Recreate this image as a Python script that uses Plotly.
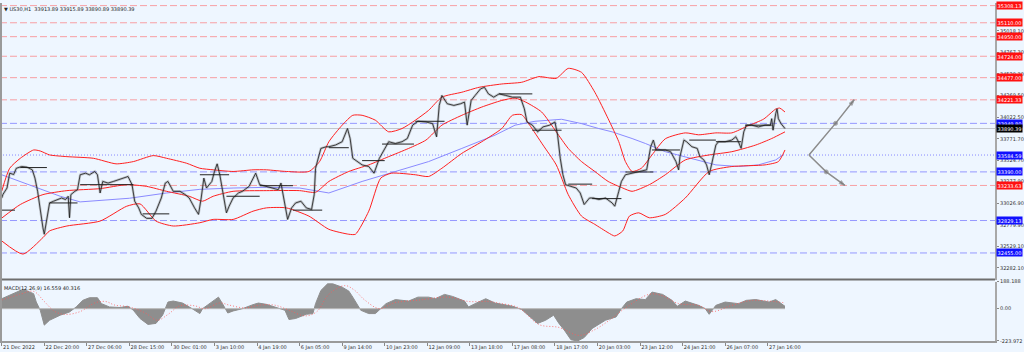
import plotly.graph_objects as go

# ---------------- data ----------------
tick_bars = [0, 32, 64, 96, 128, 160, 192, 224, 256, 288, 320, 352, 384, 416, 448, 480, 512, 544, 576]
tick_labels = ["21 Dec 2022", "22 Dec 20:00", "27 Dec 06:00", "28 Dec 15:00", "30 Dec 01:00",
               "3 Jan 10:00", "4 Jan 19:00", "6 Jan 05:00", "9 Jan 14:00", "10 Jan 23:00",
               "12 Jan 09:00", "13 Jan 18:00", "17 Jan 08:00", "18 Jan 17:00", "20 Jan 03:00",
               "23 Jan 12:00", "24 Jan 21:00", "26 Jan 07:00", "27 Jan 16:00"]

price_bar = [0, 1, 4, 6, 9, 11, 15, 19, 23, 25, 27, 29, 31, 32, 34, 36, 39, 42, 45, 48, 50, 51, 52, 55, 57,
             59, 63, 66, 70, 72, 74, 76, 80, 84, 88, 91, 95, 98, 100, 103, 105, 109, 113, 116, 120, 123,
             125, 129, 134, 138, 141, 145, 148, 150, 152, 154, 158, 160, 162, 164, 166, 169, 171, 174,
             178, 181, 186, 191, 194, 199, 204, 208, 210, 213, 215, 218, 221, 225, 229, 233, 235, 236,
             240, 244, 246, 251, 256, 260, 262, 264, 268, 271, 276, 280, 284, 288, 291, 296, 301, 305,
             309, 313, 319, 324, 327, 329, 331, 335, 340, 345, 348, 350, 353, 356, 360, 363, 366, 370,
             374, 379, 384, 390, 393, 395, 399, 403, 407, 412, 416, 418, 420, 422, 424, 428, 432, 435,
             438, 442, 445, 449, 454, 459, 461, 464, 466, 469, 474, 480, 485, 488, 490, 492, 495, 499,
             503, 507, 509, 510, 513, 515, 519, 523, 525, 528, 530, 532, 534, 537, 539, 544, 549, 552,
             554, 556, 558, 560, 564, 569, 574, 578, 579, 580, 582, 583, 584, 586, 589]
price_close = [33089, 33132, 33204, 33375, 33360, 33432, 33452, 33445, 33414, 33318, 33166, 32937, 32746,
               32671, 32861, 33032, 33052, 33071, 33089, 33071, 33109, 32861, 33128, 33166, 33185, 33357,
               33375, 33357, 33395, 33357, 33147, 33280, 33261, 33280, 33300, 33318, 33337, 33243, 33052,
               32975, 32900, 32854, 32854, 32937, 33089, 33261, 33280, 33166, 33166, 33128, 33089, 32975,
               32900, 33089, 33318, 33204, 33280, 33395, 33483, 33357, 33166, 32918, 32994, 33089, 33147,
               33166, 33223, 33375, 33243, 33223, 33204, 33185, 33261, 33014, 32842, 32975, 33032, 33052,
               32975, 32957, 33128, 33432, 33661, 33680, 33680, 33700, 33738, 33890, 33775, 33547, 33509,
               33471, 33452, 33375, 33547, 33661, 33738, 33718, 33738, 33775, 33929, 33974, 33966, 33947,
               33795, 34157, 34272, 34176, 34157, 34176, 34195, 33929, 34214, 34272, 34347, 34366, 34290,
               34252, 34290, 34272, 34252, 34252, 34118, 33966, 33929, 33852, 33909, 33929, 33966, 33814,
               33547, 33357, 33243, 33223, 33204, 33147, 33014, 33089, 33089, 33071, 33089, 33032, 32994,
               33166, 33280, 33357, 33375, 33395, 33414, 33680, 33757, 33643, 33643, 33643, 33623, 33509,
               33414, 33566, 33757, 33738, 33680, 33661, 33566, 33528, 33471, 33357, 33490, 33700, 33738,
               33738, 33757, 33795, 33738, 33661, 33852, 33929, 33929, 33909, 33929, 33929, 34004, 33871,
               34061, 34118, 34004, 33947, 33890]

bb_upper_bar = [0, 6, 14, 24, 29, 36, 49, 69, 86, 99, 114, 124, 139, 149, 159, 174, 189, 199, 214, 231,
                239, 246, 256, 264, 271, 281, 291, 301, 311, 321, 331, 346, 359, 376, 391, 404, 417, 426,
                436, 446, 456, 464, 469, 474, 481, 489, 499, 514, 524, 537, 549, 561, 573, 582, 585, 589]
bb_upper = [33166, 33432, 33547, 33643, 33631, 33586, 33566, 33547, 33483, 33509, 33578, 33547, 33490,
            33432, 33414, 33395, 33414, 33414, 33395, 33395, 33509, 33738, 33929, 34043, 34043, 33986,
            33852, 33890, 33986, 34100, 34252, 34309, 34366, 34404, 34424, 34489, 34469, 34584, 34538,
            34309, 34004, 33738, 33509, 33395, 33432, 33586, 33772, 33840, 33818, 33840, 33840, 33920,
            34000, 34115, 34126, 34081]

bb_mid_bar = [0, 14, 31, 49, 74, 94, 109, 124, 141, 151, 159, 174, 199, 224, 236, 246, 261, 276, 291,
              306, 319, 331, 346, 361, 376, 386, 394, 406, 417, 426, 436, 446, 456, 467, 474, 487, 499,
              514, 532, 549, 567, 579, 589]
bb_mid = [32857, 33014, 33128, 33174, 33197, 33243, 33223, 33166, 33109, 33052, 33109, 33166, 33174,
          33174, 33155, 33280, 33395, 33471, 33566, 33661, 33757, 33929, 34043, 34138, 34214, 34241,
          34195, 34081, 33852, 33661, 33509, 33395, 33280, 33204, 33166, 33243, 33357, 33528, 33586,
          33623, 33700, 33775, 33852]

bb_lower_bar = [0, 16, 31, 36, 49, 74, 94, 104, 116, 129, 149, 159, 174, 189, 199, 214, 231, 246, 261,
                266, 276, 285, 293, 311, 321, 331, 346, 361, 376, 384, 391, 397, 407, 417, 426, 436, 446,
                456, 461, 467, 472, 479, 487, 499, 514, 532, 549, 574, 584, 589]
bb_lower = [32594, 32442, 32632, 32709, 32766, 32823, 32994, 33021, 32823, 32766, 32804, 32842, 32842,
            32937, 32975, 32975, 32880, 32728, 32671, 32671, 32937, 33318, 33375, 33357, 33337, 33432,
            33604, 33738, 33890, 34043, 34050, 33929, 33700, 33471, 33128, 32880, 32785, 32689, 32651,
            32709, 32880, 32918, 32861, 32900, 33089, 33395, 33452, 33471, 33509, 33643]

ma_bar = [0, 14, 29, 44, 59, 74, 96, 124, 149, 174, 199, 224, 246, 271, 296, 321, 346, 371, 386, 401,
          421, 436, 449, 459, 474, 484, 499, 519, 537, 554, 569, 582, 588]
ma_val = [33357, 33280, 33189, 33109, 33044, 33063, 33086, 33147, 33189, 33204, 33212, 33204, 33147,
          33280, 33395, 33509, 33661, 33814, 33929, 33974, 33997, 33947, 33890, 33852, 33775, 33718,
          33623, 33547, 33471, 33452, 33471, 33528, 33592]

seg_start = [0, 14, 36, 59, 106, 149, 169, 194, 219, 246, 271, 286, 311, 374, 399, 426, 444, 469, 489, 517, 537, 559]
seg_end = [10, 34, 57, 99, 126, 171, 194, 219, 241, 261, 288, 310, 333, 399, 421, 444, 466, 490, 510, 537, 556, 579]
seg_price = [32949, 33440, 33032, 33243, 32906, 33357, 33109, 33231, 32949, 33669, 33520, 33711, 33974,
             34290, 33871, 33249, 33082, 33389, 33643, 33757, 33738, 33929]

red_levels = [35308.13, 35110.00, 34950.00, 34724.00, 34477.00, 34221.33, 33233.63]
blue_levels = [33949.80, 33390.00, 32829.13, 32455.00]
blue_dotted_level = 33584.59
current_price = 33890.39

main_ticks = [35018.10, 34767.30, 34520.30, 34269.50, 34022.50, 33771.70, 33524.70, 33277.90,
              33026.90, 32779.90, 32529.10, 32282.10]

proj_up_bar = [607, 627, 641]
proj_up_price = [33584.59, 33949.80, 34221.33]
proj_dn_bar = [607, 620, 634]
proj_dn_price = [33584.59, 33390.00, 33233.63]

macd_bar = [0, 6, 14, 17, 24, 26, 29, 32, 36, 44, 51, 56, 61, 66, 72, 75, 81, 89, 95, 99, 104, 110, 116,
            121, 125, 129, 136, 143, 149, 151, 156, 163, 166, 170, 174, 181, 189, 193, 199, 206, 213,
            216, 221, 229, 234, 236, 240, 245, 249, 256, 261, 264, 270, 276, 281, 289, 296, 306, 313,
            321, 326, 333, 339, 348, 351, 356, 364, 371, 374, 384, 391, 397, 403, 409, 415, 419, 423,
            428, 433, 438, 444, 454, 462, 466, 470, 477, 484, 489, 497, 504, 508, 514, 524, 529, 532,
            537, 544, 554, 560, 567, 577, 582, 589]
macd_val = [69, 92, 126, 131, 104, 46, -11, -114, -80, -45, -23, 12, 58, 76, 76, 35, 12, 8, 17, -11, -68,
            -109, -102, -45, 46, 53, 39, 1, -34, 0, 35, 80, 35, -30, -16, 0, 28, 39, 30, 8, -11, -75,
            -68, -39, -34, 35, 126, 172, 172, 149, 122, 80, -11, -34, -34, 35, 63, 53, 80, 80, 69, 99,
            85, 53, 12, 35, 69, 39, 35, 17, -6, -57, -102, -80, -45, -102, -148, -215, -223.97, -200,
            -137, -80, -57, 0, 46, 69, 63, 115, 99, 58, 17, 53, 23, 0, -39, 23, 46, 35, 58, 63, 46, 63,
            16.559]
signal_bar = [0, 14, 24, 32, 40, 48, 59, 70, 78, 85, 96, 108, 117, 125, 134, 145, 153, 164, 171, 183,
              194, 205, 216, 228, 237, 246, 258, 265, 273, 284, 295, 314, 336, 351, 366, 374, 389, 404,
              419, 434, 445, 457, 469, 487, 496, 509, 524, 534, 549, 564, 589]
signal_val = [60, 100, 120, 50, -20, -40, -20, 40, 50, 25, 12, -30, -80, -40, 20, 20, 0, 40, 25, 5, 25,
              25, -10, -50, -20, 100, 160, 130, 60, 0, 40, 60, 80, 50, 50, 38, 5, -110, -130, -185, -150,
              -80, 5, 100, 92, 35, 23, -20, 23, 57, 40.316]

symbol_title = "▼ US30,H1  33913.89 33915.89 33890.89 33890.39"
macd_title = "MACD(12,26,9) 16.559 40.316"

# ---------------- figure ----------------
BG = "#eef6ff"
FONT = "DejaVu Sans"

fig = go.Figure()

seg_x, seg_y = [], []
for a, b, p in zip(seg_start, seg_end, seg_price):
    seg_x += [a, b, None]
    seg_y += [p, p, None]

fig.add_trace(go.Scatter(x=ma_bar, y=ma_val, mode="lines", line=dict(color="#8a8aff", width=1),
                         hoverinfo="skip"))
for xs, ys in [(bb_upper_bar, bb_upper), (bb_mid_bar, bb_mid), (bb_lower_bar, bb_lower)]:
    fig.add_trace(go.Scatter(x=xs, y=ys, mode="lines", line=dict(color="#ff2020", width=1, shape="spline",
                                                                  smoothing=0.6), hoverinfo="skip"))
fig.add_trace(go.Scatter(x=price_bar, y=price_close, mode="lines",
                         line=dict(color="rgba(110,110,110,0.35)", width=2.5), hoverinfo="skip"))
fig.add_trace(go.Scatter(x=seg_x, y=seg_y, mode="lines", line=dict(color="#222222", width=1),
                         hoverinfo="skip"))
fig.add_trace(go.Scatter(x=price_bar, y=price_close, mode="lines",
                         line=dict(color="#1a1a1a", width=0.8), hoverinfo="skip"))

for xs, ys in [(proj_up_bar, proj_up_price), (proj_dn_bar, proj_dn_price)]:
    fig.add_trace(go.Scatter(x=xs, y=ys, mode="lines+markers",
                             line=dict(color="#8c8c8c", width=1.5),
                             marker=dict(symbol=["circle", "circle", "arrow"], size=[0, 4, 6],
                                         color="#7a7a7a", angleref="previous"),
                             hoverinfo="skip"))

# MACD
fig.add_trace(go.Scatter(x=macd_bar, y=macd_val, yaxis="y2", mode="lines", fill="tozeroy",
                         fillcolor="#8e8e8e", line=dict(color="#8e8e8e", width=1), hoverinfo="skip"))
fig.add_trace(go.Scatter(x=[macd_bar[0], macd_bar[-1]], y=[0, 0], yaxis="y2", mode="lines",
                         line=dict(color="#b8b8b8", width=1), hoverinfo="skip"))
fig.add_trace(go.Scatter(x=signal_bar, y=signal_val, yaxis="y2", mode="lines",
                         line=dict(color="rgba(255,90,90,0.8)", width=1, dash="1px,2px", shape="spline"),
                         hoverinfo="skip"))

shapes = []
for lv in red_levels:
    shapes.append(dict(type="line", xref="paper", x0=0, x1=1, yref="y", y0=lv, y1=lv,
                       line=dict(color="rgba(255,90,90,0.55)", width=1, dash="7px,3px"), layer="below"))
for lv in blue_levels:
    shapes.append(dict(type="line", xref="paper", x0=0, x1=1, yref="y", y0=lv, y1=lv,
                       line=dict(color="rgba(90,90,255,0.6)", width=1, dash="7px,3px"), layer="below"))
shapes.append(dict(type="line", xref="paper", x0=0, x1=1, yref="y", y0=blue_dotted_level,
                   y1=blue_dotted_level, line=dict(color="rgba(90,90,255,0.7)", width=1, dash="1px,2px"),
                   layer="below"))
shapes.append(dict(type="line", xref="paper", x0=0, x1=1, yref="y", y0=current_price, y1=current_price,
                   line=dict(color="rgba(150,150,150,0.5)", width=1), layer="below"))
MAIN_BOTTOM = 62 / 341
MACD_TOP = 60 / 341
shapes.append(dict(type="line", xref="paper", yref="paper", x0=0, x1=1, y0=MAIN_BOTTOM, y1=MAIN_BOTTOM,
                   line=dict(color="#6e6e6e", width=2)))
shapes.append(dict(type="line", xref="paper", yref="paper", x0=0.001, x1=0.001, y0=0, y1=1,
                   line=dict(color="#9a9a9a", width=2)))

annotations = []
def box(value, color):
    annotations.append(dict(x=1, xref="paper", xanchor="left", xshift=1, y=value, yref="y",
                            text="%.2f" % value, showarrow=False, bgcolor=color, borderpad=0.6,
                            font=dict(family=FONT, size=5, color="white")))
for lv in red_levels:
    box(lv, "#ff1010")
for lv in blue_levels + [blue_dotted_level]:
    box(lv, "#1010ff")
box(current_price, "#000000")

annotations.append(dict(x=0, xref="paper", xanchor="left", xshift=2, y=1, yref="paper", yanchor="top",
                        yshift=-1, text=symbol_title, showarrow=False,
                        font=dict(family=FONT, size=5, color="#222222")))
annotations.append(dict(x=0, xref="paper", xanchor="left", xshift=2, y=MACD_TOP, yref="paper",
                        yanchor="top", yshift=-1, text=macd_title, showarrow=False,
                        font=dict(family=FONT, size=5, color="#222222")))

fig.update_layout(
    width=1024, height=352,
    margin=dict(l=0, r=27, t=0, b=11),
    paper_bgcolor=BG, plot_bgcolor=BG,
    showlegend=False,
    font=dict(family=FONT, size=5, color="#333333"),
    shapes=shapes, annotations=annotations,
    xaxis=dict(range=[-1.28, 746.9], anchor="y2", tickmode="array", tickvals=tick_bars,
               ticktext=tick_labels, ticklabelposition="outside right", tickangle=0,
               ticks="outside", ticklen=3,
               tickcolor="#888888", showgrid=False, zeroline=False, showline=True, linecolor="#9a9a9a",
               linewidth=1.5, tickfont=dict(family=FONT, size=5, color="#333333")),
    yaxis=dict(domain=[MAIN_BOTTOM, 1], range=[32148.4, 35338.2], side="right", anchor="x",
               tickmode="array", tickvals=main_ticks, ticktext=["%.2f" % v for v in main_ticks],
               ticks="outside", ticklen=2, tickcolor="#888888", showgrid=False, zeroline=False,
               showline=True, linecolor="#a8a8a8", linewidth=2,
               tickfont=dict(family=FONT, size=5, color="#333333")),
    yaxis2=dict(domain=[0, MACD_TOP], range=[-223.972, 188.188], side="right", anchor="x",
                tickmode="array", tickvals=[188.188, 0, -223.972],
                ticktext=["188.188", "0.00", "-223.972"], ticks="outside", ticklen=2,
                tickcolor="#888888", showgrid=False, zeroline=False, showline=True,
                linecolor="#a8a8a8", linewidth=2,
                tickfont=dict(family=FONT, size=5, color="#333333")),
)

fig.write_html("out.html")
